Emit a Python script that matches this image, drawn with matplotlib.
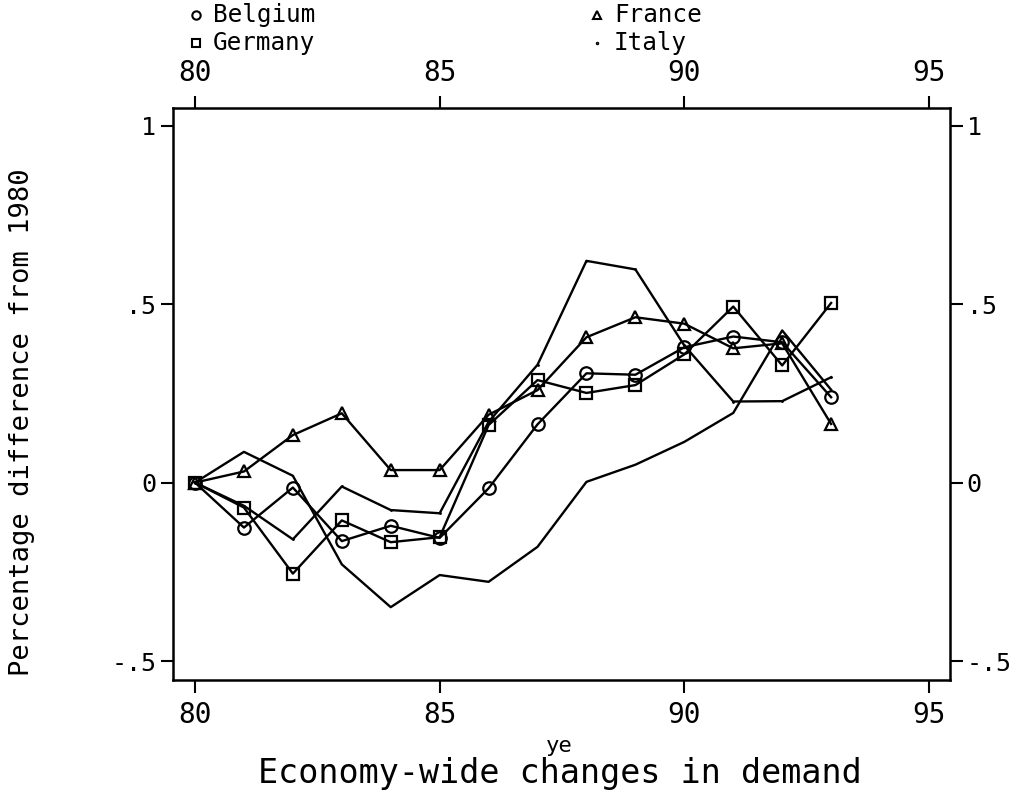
import numpy as np
import matplotlib.pyplot as plt
from matplotlib.lines import Line2D

plt.rcParams['font.family'] = 'DejaVu Sans Mono'

# percentage difference from 1980, years 80..93
years = np.arange(80, 94)
belgium = [0, -0.126, -0.014, -0.164, -0.121, -0.155, -0.016, 0.163, 0.306, 0.302, 0.379, 0.409, 0.393, 0.239]
france = [0, 0.031, 0.133, 0.194, 0.035, 0.035, 0.19, 0.259, 0.407, 0.463, 0.445, 0.376, 0.39, 0.164]
germany = [0, -0.07, -0.255, -0.106, -0.167, -0.153, 0.161, 0.287, 0.251, 0.273, 0.359, 0.493, 0.328, 0.503]
italy = [0, -0.065, -0.159, -0.011, -0.077, -0.086, 0.17, 0.33, 0.621, 0.597, 0.384, 0.227, 0.228, 0.295]
other = [0, 0.086, 0.019, -0.229, -0.349, -0.259, -0.278, -0.18, 0.002, 0.05, 0.114, 0.195, 0.426, 0.26]

xticks = [80, 85, 90, 95]
yticks = [-0.5, 0, 0.5, 1]
ylabels = ['-.5', '0', '.5', '1']

fig = plt.figure(figsize=(10.14, 7.92), dpi=100)
ax = fig.add_axes([0.1706, 0.1414, 0.7663, 0.7222])

lw = 1.7
ax.plot(years, other, color='black', lw=lw)
ax.plot(years, italy, color='black', lw=lw, marker='.', ms=2)
ax.plot(years, belgium, color='black', lw=lw, marker='o', ms=9, mfc='none', mew=1.6)
ax.plot(years, france, color='black', lw=lw, marker='^', ms=8, mfc='none', mew=1.6)
ax.plot(years, germany, color='black', lw=lw, marker='s', ms=8, mfc='none', mew=1.6)

ax.set_xlim(79.55, 95.43)
ax.set_ylim(-0.553, 1.049)
ax.set_xticks(xticks)
ax.set_xticklabels([str(t) for t in xticks])
ax.set_yticks(yticks)
ax.set_yticklabels(ylabels)
ax.tick_params(axis='both', direction='out', length=9, width=1.5,
               top=True, labeltop=True, right=True, labelright=True)
ax.tick_params(axis='x', pad=6, labelsize=20)
ax.tick_params(axis='y', pad=3, labelsize=18)
for s in ax.spines.values():
    s.set_linewidth(1.8)

fig.text(22 / 1014, 1 - 422 / 792, 'Percentage difference from 1980', fontsize=19.5,
         rotation=90, ha='center', va='center')
fig.text(0.552, 1 - 752 / 792, 'ye', fontsize=16, ha='center', va='baseline')
fig.text(0.552, 1 - 783 / 792, 'Economy-wide changes in demand', fontsize=24,
         ha='center', va='baseline')

# legend across the top
entries = [('Belgium', 'o', 196, 15), ('France', '^', 597, 15),
           ('Germany', 's', 196, 43), ('Italy', '.', 597, 43)]
for name, mk, px, py in entries:
    x = px / 1014
    y = 1 - py / 792
    size = 2 if mk == '.' else 6
    fig.add_artist(Line2D([x], [y], marker=mk, ms=size, mfc='none', mec='black',
                          mew=1.5, color='black', transform=fig.transFigure))
    fig.text(x + 17 / 1014, y, name, fontsize=17.5, va='center', ha='left')

fig.savefig('out.png', dpi=100)
